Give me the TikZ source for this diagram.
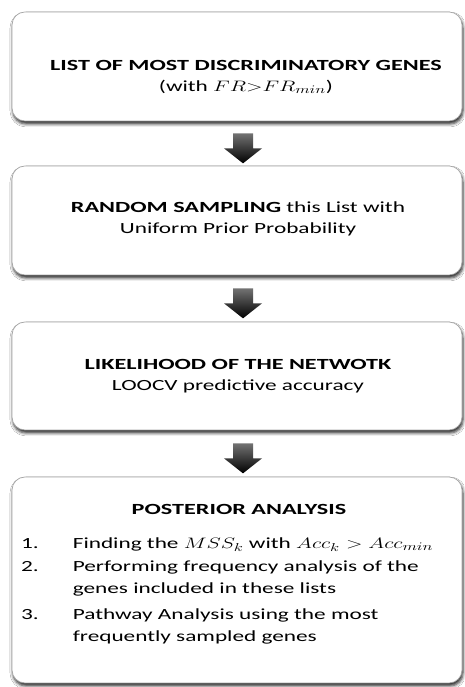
\documentclass[tikz,border=0pt]{standalone}
\usepackage{fontspec}
\usepackage{graphicx}
\setmainfont[FakeStretch=1.5]{Carlito}
\newfontfamily\boldwide[FakeStretch=1.56]{Carlito}
\usetikzlibrary{shadows.blur,calc}
\newcommand{\wm}[1]{\scalebox{1.5}[1.05]{$#1$}}
\newcommand{\hd}[1]{{\boldwide\bfseries #1}}
\tikzset{
  box/.style={draw=black!35, line width=0.7pt, fill=white, rounded corners=13pt,
    minimum width=450pt, inner sep=0pt,
    blur shadow={shadow xshift=1pt, shadow yshift=-3pt, shadow blur radius=3pt, shadow opacity=85}},
  txt/.style={align=center, inner sep=0pt, font=\fontsize{15.5}{20.5}\selectfont},
  blockarrow/.style={top color=black!55, bottom color=black, draw=none}
}
\newcommand{\blockarr}[1]{%
  \shade[blockarrow] ($(#1)+(-10,0)$) -- ($(#1)+(10,0)$) -- ($(#1)+(10,-15)$) -- ($(#1)+(19,-15)$)
   -- ($(#1)+(0,-30)$) -- ($(#1)+(-19,-15)$) -- ($(#1)+(-10,-15)$) -- cycle;}
\begin{document}
\begin{tikzpicture}[x=1pt,y=1pt]
\useasboundingbox[fill=white] (0,0) rectangle (464,687);
\node[box, minimum height=109pt] (b1) at (237,620.5) {};
\node[box, minimum height=109pt] (b2) at (237,466.5) {};
\node[box, minimum height=108pt] (b3) at (237,311) {};
\node[box, minimum height=206pt] (b4) at (237,107) {};
\node[txt] (t1) at (246,610) {\hd{LIST OF MOST DISCRIMINATORY GENES}\\(with \wm{FR{>}FR_{min}})};
\node[txt] (t2) at (238,468) {\hd{RANDOM SAMPLING} this List with\\Uniform Prior Probability};
\node[txt] (t3) at (238,311) {\hd{LIKELIHOOD OF THE NETWOTK}\\LOOCV predictive accuracy};
\node[txt] (t4) at (239,178) {\hd{POSTERIOR ANALYSIS}};
\node[txt, align=left, anchor=north west, font=\fontsize{15.5}{22}\selectfont] (l4) at (21,154) {%
  \begin{tabular}{@{}l@{\hspace{34pt}}l@{}}
  1. & Finding the \wm{MSS_k} with \wm{Acc_k > Acc_{min}}\\[1pt]
  2. & Performing frequency analysis of the\\
     & genes included in these lists\\[4pt]
  3. & Pathway Analysis using the most\\
     & frequently sampled genes
  \end{tabular}};
\coordinate (a1) at ($(b1.south)+(6,-12)$);
\coordinate (a2) at ($(b2.south)+(6,-13)$);
\coordinate (a3) at ($(b3.south)+(6,-13)$);
\blockarr{a1}
\blockarr{a2}
\blockarr{a3}
\end{tikzpicture}
\end{document}
